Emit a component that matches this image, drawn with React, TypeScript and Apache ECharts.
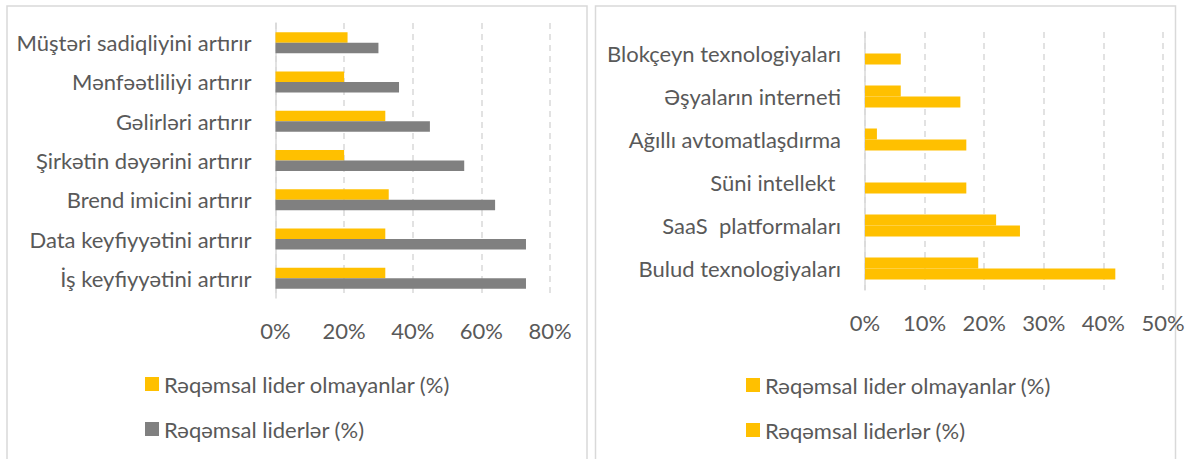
import React, { useEffect, useRef } from 'react';
import * as echarts from 'echarts';

const seriesNames = ['Rəqəmsal lider olmayanlar (%)', 'Rəqəmsal liderlər (%)'];

const leftCategories = [
  'İş keyfiyyətini artırır',
  'Data keyfiyyətini artırır',
  'Brend imicini artırır',
  'Şirkətin dəyərini artırır',
  'Gəlirləri artırır',
  'Mənfəətliliyi artırır',
  'Müştəri sadiqliyini artırır',
];
const leftNonLeaders = [32, 32, 33, 20, 32, 20, 21];
const leftLeaders = [73, 73, 64, 55, 45, 36, 30];
const leftAxisMax = 80;
const leftAxisStep = 20;

const rightCategories = [
  'Bulud texnologiyaları',
  'SaaS  platformaları',
  'Süni intellekt ',
  'Ağıllı avtomatlaşdırma',
  'Əşyaların interneti',
  'Blokçeyn texnologiyaları',
];
const rightNonLeaders = [19, 22, 0, 2, 6, 0];
const rightLeaders = [42, 26, 17, 17, 16, 6];
const rightAxisMax = 50;
const rightAxisStep = 10;

const FONT = 'Lato';
const FS = 22;
const TEXT = '#595959';
const GRID = '#d9d9d9';
const ORANGE = '#FFC000';
const GRAY = '#808080';

function buildOption(opts: {
  categories: string[];
  a: number[];
  b: number[];
  colors: string[];
  max: number;
  step: number;
  grid: any;
  barWidth: number;
  legendLeft: number;
  legendTop: number;
  panelX: number;
}) {
  return {
    animation: false,
    textStyle: { fontFamily: FONT },
    graphic: [
      {
        type: 'rect',
        shape: { x: opts.panelX, y: 6, width: 580, height: 480 },
        style: { fill: 'none', stroke: GRID, lineWidth: 1.5 },
        silent: true,
        z: -10,
      },
    ],
    legend: {
      orient: 'vertical',
      left: opts.legendLeft,
      top: opts.legendTop,
      icon: 'rect',
      itemWidth: 14,
      itemHeight: 14,
      itemGap: 23,
      itemStyle: { borderWidth: 0 },
      textStyle: { fontFamily: FONT, fontSize: FS, color: TEXT },
      data: seriesNames,
      selectedMode: false,
    },
    grid: { ...opts.grid, containLabel: false },
    xAxis: {
      type: 'value',
      min: 0,
      max: opts.max,
      interval: opts.step,
      axisLine: { show: false },
      axisTick: { show: false },
      axisLabel: {
        formatter: '{value}%',
        color: TEXT,
        fontFamily: FONT,
        fontSize: FS,
        margin: 21,
      },
      splitLine: {
        show: true,
        lineStyle: { color: GRID, type: [6, 5], width: 1.5 },
      },
    },
    yAxis: {
      type: 'category',
      data: opts.categories,
      axisLine: { show: true, lineStyle: { color: GRID, width: 1.5 } },
      axisTick: { show: false },
      axisLabel: {
        color: TEXT,
        fontFamily: FONT,
        fontSize: FS,
        margin: 24,
      },
      splitLine: { show: false },
    },
    series: [
      {
        name: seriesNames[0],
        type: 'bar',
        data: opts.a,
        barWidth: opts.barWidth,
        barGap: '0%',
        itemStyle: { color: opts.colors[0] },
      },
      {
        name: seriesNames[1],
        type: 'bar',
        data: opts.b,
        barWidth: opts.barWidth,
        barGap: '0%',
        itemStyle: { color: opts.colors[1] },
      },
    ],
  };
}

export default function App() {
  const leftRef = useRef<HTMLDivElement>(null);
  const rightRef = useRef<HTMLDivElement>(null);

  useEffect(() => {
    const left = echarts.init(leftRef.current!, null, { renderer: 'svg' });
    const right = echarts.init(rightRef.current!, null, { renderer: 'svg' });
    left.setOption(
      buildOption({
        categories: leftCategories,
        a: leftNonLeaders,
        b: leftLeaders,
        colors: [ORANGE, GRAY],
        max: leftAxisMax,
        step: leftAxisStep,
        grid: { left: 275.5, right: 42, top: 23, height: 275 },
        barWidth: 10.5,
        legendLeft: 140,
        legendTop: 368,
        panelX: 7,
      }) as any
    );
    right.setOption(
      buildOption({
        categories: rightCategories,
        a: rightNonLeaders,
        b: rightLeaders,
        colors: [ORANGE, ORANGE],
        max: rightAxisMax,
        step: rightAxisStep,
        grid: { left: 273, right: 35, top: 32, height: 258 },
        barWidth: 11,
        legendLeft: 149,
        legendTop: 369,
        panelX: 3.5,
      }) as any
    );
    return () => {
      left.dispose();
      right.dispose();
    };
  }, []);

  return (
    <div style={{ position: 'absolute', left: 0, top: 0, width: 1198, height: 459, background: '#fff' }}>
      <div ref={leftRef} style={{ position: 'absolute', left: 0, top: 0, width: 592, height: 459 }} />
      <div ref={rightRef} style={{ position: 'absolute', left: 592, top: 0, width: 606, height: 459 }} />
    </div>
  );
}
